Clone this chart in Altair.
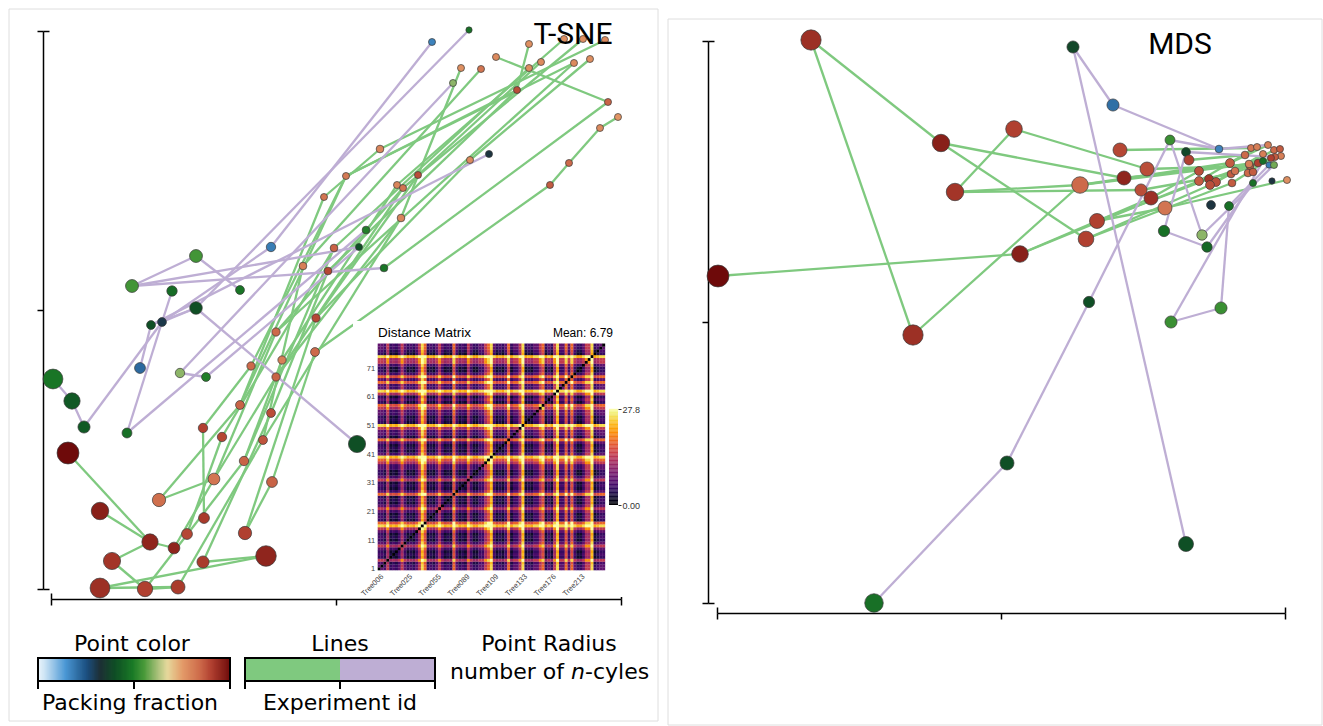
import altair as alt
import numpy as np
import pandas as pd

FONT = "DejaVu Sans"
TITLE_FONT = "Roboto"
SMALL_FONT = "Liberation Sans"

# ---------------- colour / size keys ----------------
PF_STOPS = [0.0, 0.03, 0.14, 0.25, 0.32, 0.40, 0.49, 0.55, 0.62, 0.67, 0.75, 0.84, 0.90, 1.0]
PF_COLORS = ["#e8f3fb", "#cfe5f5", "#4a97d4", "#1b4f80", "#1d2f35", "#0f4f25", "#1a7a26",
             "#4a9a3a", "#a8c07a", "#e6d99c", "#e39a68", "#cd6a4a", "#b04030", "#6e0a0a"]
PF_TICKS = [0, 0.5, 1]
EXPERIMENTS = [1, 2]
LINE_COLORS = ["#7fc97f", "#beaed4"]
NCYC_MAX = 50

# ---------------- T-SNE embedding ----------------
TSNE_X = [38.1, 41.8, 47.8, 51.3, 53.2, 55.4, 44.5, 41.0, 43.0, 47.8,
          49.0, 52.3, 53.9, 40.2, 46.6, 55.7, 56.7, 54.9, 32.9, 43.8,
          41.9, 51.8, 29.5, 36.7, 34.6, 35.2, 49.9, 27.3, 35.0, 31.5,
          30.8, 28.3, 25.2, 27.7, 33.3, 22.0, 14.5, 8.1, 12.1, 18.9,
          14.5, 11.1, 10.0, 26.5, 22.5, 26.4, 23.1, 20.0, 22.5, 8.9,
          12.9, 15.5, 0.2, 2.1, 3.3, 7.6, 18.9, 22.0, 15.2, 17.1,
          21.2, 30.6, 1.7, 19.3, 16.3, 22.1, 10.8, 4.9, 15.3, 13.6,
          19.4, 9.9, 12.3, 6.1, 15.2, 21.5, 4.9, 9.4, 12.7]
TSNE_Y = [54.7, 55.9, 54.5, 55.0, 55.0, 54.9, 53.2, 52.1, 52.0, 52.1,
          52.7, 52.6, 53.0, 50.6, 49.9, 48.7, 47.2, 46.1, 44.0, 43.5,
          42.9, 42.6, 41.3, 41.4, 40.4, 40.1, 40.4, 39.2, 37.1, 35.9,
          34.2, 34.1, 32.3, 31.8, 32.1, 34.2, 33.3, 30.3, 29.8, 29.9,
          28.1, 26.7, 26.4, 27.1, 25.7, 23.7, 22.9, 22.3, 21.2, 22.1,
          21.6, 21.2, 21.0, 18.8, 16.2, 15.6, 18.4, 17.6, 16.1, 15.2,
          14.9, 14.5, 13.6, 12.8, 11.0, 10.7, 8.9, 7.8, 7.1, 5.5,
          5.6, 4.7, 4.1, 2.8, 2.7, 3.3, 0.1, 0.0, 0.2]
TSNE_PF = [0.17, 0.47, 0.77, 0.77, 0.77, 0.78, 0.78, 0.77, 0.82, 0.77,
           0.78, 0.78, 0.77, 0.60, 0.88, 0.85, 0.76, 0.78, 0.79, 0.31,
           0.78, 0.84, 0.81, 0.88, 0.79, 0.82, 0.86, 0.82, 0.79, 0.50,
           0.40, 0.85, 0.80, 0.89, 0.48, 0.18, 0.54, 0.54, 0.46, 0.48,
           0.40, 0.30, 0.40, 0.89, 0.84, 0.84, 0.80, 0.84, 0.85, 0.21,
           0.60, 0.50, 0.48, 0.42, 0.42, 0.47, 0.85, 0.88, 0.90, 0.89,
           0.87, 0.40, 1.00, 0.85, 0.82, 0.85, 0.83, 0.96, 0.91, 0.89,
           0.90, 0.95, 0.95, 0.92, 0.91, 0.95, 0.93, 0.90, 0.91]
TSNE_NCYC = [5, 4, 5, 5, 5, 5, 5, 5, 5, 5,
             5, 5, 5, 5, 5, 5, 5, 5, 6, 5,
             5, 5, 5, 5, 5, 5, 5, 5, 6, 6,
             5, 6, 6, 6, 6, 9, 17, 17, 11, 8,
             16, 8, 8, 7, 7, 8, 7, 7, 7, 12,
             9, 8, 40, 27, 15, 10, 8, 8, 9, 9,
             8, 30, 49, 9, 14, 12, 18, 31, 12, 12,
             18, 27, 14, 30, 15, 43, 40, 24, 20]
TSNE_EDGES_1 = [(63, 72), (68, 72), (72, 74), (74, 78), (78, 79), (77, 79), (77, 76), (75, 76),
                (72, 73), (67, 65), (79, 61), (78, 64), (69, 59), (73, 65), (75, 58), (71, 66),
                (66, 46), (67, 57), (65, 49), (70, 60), (71, 44), (65, 45),
                (64, 47), (59, 48), (60, 32), (61, 33), (57, 28), (58, 34), (49, 29), (48, 23),
                (47, 25), (46, 27), (45, 26), (44, 24),
                (33, 9), (34, 15), (32, 10), (29, 8), (28, 19), (19, 6), (23, 12), (25, 4),
                (26, 5), (24, 11), (21, 13), (27, 22), (22, 18), (18, 17), (35, 16), (16, 7),
                (15, 3), (15, 23),
                (44, 21), (45, 12), (49, 26), (61, 29), (64, 32), (57, 23)]
TSNE_EDGES_2 = [(1, 36), (36, 42), (2, 41), (41, 42), (41, 43), (41, 62), (39, 42), (55, 42),
                (56, 42), (50, 43), (20, 43), (53, 54), (54, 55), (14, 51), (51, 52), (52, 31),
                (56, 30), (38, 37), (37, 40), (38, 31), (38, 35)]

# ---------------- MDS embedding ----------------
MDS_X = [9.4, 35.6, 39.6, 29.7, 22.4, 45.3, 40.3, 46.9, 50.2, 47.2,
         23.8, 36.3, 40.7, 43.0, 42.4, 43.4, 44.8, 38.0, 36.9, 30.3,
         0.1, 19.6, 49.4, 51.2, 44.7, 48.5, 49.0, 37.2, 45.4, 50.4,
         29.0, 46.9, 15.7, 53.4, 54.0, 55.1, 55.7, 56.3, 54.6, 56.4,
         55.8, 55.4, 52.8, 51.3, 53.3, 55.2, 55.7, 54.1, 53.2, 51.4,
         51.8, 53.1, 53.6, 48.2, 49.2, 49.9, 48.2, 49.3, 51.5, 53.6,
         55.5, 57.0, 54.6]
MDS_Y = [56.3, 55.6, 49.8, 47.4, 46.0, 46.3, 45.3, 45.1, 45.4, 44.3,
         41.1, 41.8, 42.5, 43.4, 41.3, 40.5, 39.5, 38.2, 36.4, 34.9,
         32.7, 26.8, 39.8, 39.7, 37.2, 36.8, 35.6, 30.1, 28.1, 29.5,
         14.0, 5.9, 0.0, 45.5, 45.6, 45.8, 45.3, 45.4, 44.9, 44.7,
         44.6, 44.5, 44.8, 44.0, 43.7, 43.8, 43.8, 44.0, 43.9, 42.9,
         43.2, 43.0, 43.1, 43.2, 42.4, 42.1, 42.2, 41.8, 42.0, 42.0,
         42.2, 42.3, 44.2]
MDS_PF = [0.93, 0.38, 0.20, 0.90, 0.96, 0.53, 0.89, 0.38, 0.17, 0.90,
          0.92, 0.84, 0.95, 0.88, 0.88, 0.93, 0.82, 0.90, 0.90, 0.96,
          1.00, 0.93, 0.31, 0.47, 0.47, 0.60, 0.45, 0.40, 0.53, 0.53,
          0.40, 0.40, 0.47, 0.82, 0.80, 0.80, 0.84, 0.86, 0.80, 0.80,
          0.86, 0.90, 0.84, 0.86, 0.86, 0.18, 0.58, 0.90, 0.80, 0.86,
          0.82, 0.84, 0.86, 0.88, 0.92, 0.88, 0.86, 0.88, 0.86, 0.47,
          0.31, 0.77, 0.47]
MDS_NCYC = [42, 15, 15, 28, 31, 10, 20, 8, 6, 10,
            31, 28, 20, 20, 15, 20, 20, 23, 25, 28,
            49, 42, 8, 8, 13, 11, 11, 13, 15, 15,
            20, 23, 35, 5, 5, 5, 5, 5, 5, 5,
            5, 5, 6, 8, 6, 4, 5, 6, 6, 6,
            6, 6, 6, 8, 8, 8, 8, 8, 6, 5,
            4, 5, 5]
MDS_EDGES_1 = [(1, 5), (5, 19), (1, 22), (22, 12), (12, 44), (4, 11), (4, 14), (14, 45), (5, 13),
               (13, 48), (11, 12), (11, 15), (15, 50), (21, 20), (20, 16), (16, 54), (19, 58),
               (18, 55), (17, 62), (7, 34), (12, 49), (20, 57), (19, 59), (10, 43), (44, 36),
               (50, 40), (55, 41), (56, 37), (57, 35), (58, 39), (59, 42), (18, 17)]
MDS_EDGES_2 = [(2, 32), (2, 3), (3, 9), (9, 36), (33, 31), (31, 28), (28, 6), (6, 26), (6, 9),
               (25, 27), (29, 30), (30, 24), (24, 46), (29, 63), (8, 25), (8, 41), (26, 47),
               (27, 60)]

# ---------------- distance-matrix inset ----------------
# per-tree distance level read from the banding of the matrix (79 trees)
HM_LEVEL = [3.8, 3.8, 2.2, 10.5, 1.0, 2.2, 1.0, 3.8, 10.5, 3.8,
            1.0, 2.2, 1.0, 3.8, 10.5, 21.5, 14.5, 1.0, 2.2, 1.0,
            3.8, 10.5, 3.8, 1.0, 2.2, 1.0, 14.5, 3.8, 1.0, 2.2,
            1.0, 10.5, 3.8, 1.0, 1.0, 3.8, 3.8, 10.5, 14.5, 21.5,
            3.8, 1.0, 2.2, 1.0, 3.8, 14.5, 1.0, 3.8, 3.8, 10.5,
            21.5, 1.0, 2.2, 1.0, 3.8, 3.8, 10.5, 14.5, 1.0, 3.8,
            1.0, 10.5, 21.5, 3.8, 3.8, 14.5, 3.8, 14.5, 3.8, 1.0,
            1.0, 3.8, 10.5, 10.5, 21.5, 1.0, 2.2, 3.8, 3.8]
HM_TICKS = [1, 11, 21, 31, 41, 51, 61, 71]
HM_TICK_NAMES = ["Tree006", "Tree025", "Tree055", "Tree089", "Tree109", "Tree133", "Tree176", "Tree213"]
HM_MAX = 27.8
HM_TITLE = "Distance Matrix"
HM_MEAN = "Mean: 6.79"

# ---------------- helpers ----------------
pf_scale = alt.Scale(domain=PF_STOPS, range=PF_COLORS, interpolate="rgb")
exp_scale = alt.Scale(domain=EXPERIMENTS, range=LINE_COLORS)
size_scale = alt.Scale(domain=[0, NCYC_MAX], range=[0, 491])
ONE = pd.DataFrame({"v": [0]})


def points_frame(xs, ys, pf, n):
    return pd.DataFrame({"x": xs, "y": ys, "pf": pf, "n": n})


def edges_frame(xs, ys, e1, e2):
    rows = []
    for exp, edges in zip(EXPERIMENTS, (e1, e2)):
        for a, b in edges:
            rows.append({"x": xs[a - 1], "y": ys[a - 1], "x2": xs[b - 1], "y2": ys[b - 1], "exp": exp})
    return pd.DataFrame(rows)


def main_axis(orient, values, offset, domain=True):
    return alt.Axis(orient=orient, values=values, labels=False, title=None, grid=False, domain=domain,
                    domainColor="black", domainWidth=1.5, tickColor="black", tickWidth=1.5,
                    tickSize=6, offset=offset)


def text_layer(txt, x, y, size, font, align="left", style="normal"):
    return alt.Chart(pd.DataFrame({"t": [txt]})).mark_text(
        align=align, baseline="alphabetic", fontSize=size, font=font, color="black",
        fontStyle=style).encode(text="t:N", x=alt.value(x), y=alt.value(y))


def frame_layer(x1, x2, y1, y2, color="#dedede"):
    return alt.Chart(ONE).mark_rect(fillOpacity=0, stroke=color, strokeWidth=1).encode(
        x=alt.value(x1), x2=alt.value(x2), y=alt.value(y1), y2=alt.value(y2))


def scatter_layers(xs, ys, pf, n, e1, e2, xdom, ydom, xoff, yoff, yrange):
    xsc = alt.Scale(domain=xdom, nice=False, zero=False)
    ysc = alt.Scale(domain=ydom, range=yrange, nice=False, zero=False)
    edges = alt.Chart(edges_frame(xs, ys, e1, e2)).mark_rule(strokeWidth=2.3).encode(
        x=alt.X("x:Q", scale=xsc, axis=main_axis("bottom", [xdom[0], (xdom[0] + xdom[1]) / 2, xdom[1]], xoff)),
        y=alt.Y("y:Q", scale=ysc, axis=main_axis("left", [ydom[0], (ydom[0] + ydom[1]) / 2, ydom[1]], yoff)),
        x2="x2:Q", y2="y2:Q",
        color=alt.Color("exp:N", scale=exp_scale, legend=None))
    # inner half of the end caps of both axes
    caps = alt.Chart(pd.DataFrame({"x": [xdom[0]], "y": [ydom[0]]})).mark_point(opacity=0).encode(
        x=alt.X("x:Q", scale=xsc, axis=main_axis("bottom", list(xdom), xoff - 6, domain=False)),
        y=alt.Y("y:Q", scale=ysc, axis=main_axis("left", list(ydom), yoff - 6, domain=False)))
    pts = alt.Chart(points_frame(xs, ys, pf, n)).mark_circle(
        opacity=1, stroke="#3a3a3a", strokeWidth=0.7).encode(
        x=alt.X("x:Q", scale=xsc, axis=None),
        y=alt.Y("y:Q", scale=ysc, axis=None),
        color=alt.Color("pf:Q", scale=pf_scale, legend=None),
        size=alt.Size("n:Q", scale=size_scale, legend=None))
    return edges, caps, pts


# ---------------- T-SNE panel ----------------
W_T, H_T = 570, 558
tsne_edges, tsne_caps, tsne_pts = scatter_layers(TSNE_X, TSNE_Y, TSNE_PF, TSNE_NCYC, TSNE_EDGES_1,
                                                 TSNE_EDGES_2, [0, 57], [0, 55.8], 10, 8, [H_T, 0])

# heatmap inset
lev = np.array(HM_LEVEL)
nt = len(lev)
mat = np.minimum(lev[:, None] + lev[None, :], HM_MAX)
np.fill_diagonal(mat, 0.0)
ii, jj = np.meshgrid(np.arange(1, nt + 1), np.arange(1, nt + 1), indexing="ij")
hm_df = pd.DataFrame({"c0": jj.ravel() - 0.5, "c1": jj.ravel() + 0.56,
                      "r0": ii.ravel() - 0.5, "r1": ii.ravel() + 0.56, "d": mat.ravel()})
hm_x0, hm_x1, hm_y0, hm_y1 = 326.7, 554.0, 539.3, 312.7
label_arr = "[" + ",".join("'%s'" % s for s in HM_TICK_NAMES) + "]"
hm_x_axis = alt.Axis(orient="bottom", values=HM_TICKS, offset=-(H_T - hm_y0), domain=False, ticks=False,
                     labelExpr=label_arr + "[round((datum.value-1)/10)]", labelAngle=-45,
                     labelFontSize=7.5, labelFont=SMALL_FONT, labelColor="#444", labelPadding=2,
                     labelFlush=False, labelOverlap=False, labelBound=False, title=None, grid=False, zindex=2)
hm_y_axis = alt.Axis(orient="left", values=HM_TICKS, offset=-hm_x0, domain=False, ticks=False,
                     labelFontSize=7.5, labelFont=SMALL_FONT, labelColor="#444", labelPadding=3,
                     labelFlush=False, labelOverlap=False, title=None, grid=False, zindex=2)
hm_color = alt.Scale(scheme="inferno", domain=[0, HM_MAX])
heat = alt.Chart(hm_df).mark_rect(strokeWidth=0).encode(
    x=alt.X("c0:Q", scale=alt.Scale(domain=[0.5, nt + 0.5], range=[hm_x0, hm_x1], nice=False, zero=False),
            axis=hm_x_axis),
    x2="c1:Q",
    y=alt.Y("r0:Q", scale=alt.Scale(domain=[0.5, nt + 0.5], range=[hm_y0, hm_y1], nice=False, zero=False),
            axis=hm_y_axis),
    y2="r1:Q",
    color=alt.Color("d:Q", scale=hm_color, legend=None))

cb_v = np.linspace(0, HM_MAX, 121)
cb_df = pd.DataFrame({"v": cb_v[:-1], "v2": cb_v[1:] + 0.05})
cbar = alt.Chart(cb_df).mark_rect(strokeWidth=0).encode(
    x=alt.value(558), x2=alt.value(567),
    y=alt.Y("v:Q", scale=alt.Scale(domain=[0, HM_MAX], range=[474, 378], nice=False, zero=False),
            axis=alt.Axis(orient="right", values=[0, HM_MAX], offset=-3, domain=False, tickSize=3,
                          tickColor="#333", labelFontSize=9, labelFont=SMALL_FONT, labelColor="#333",
                          labelPadding=1, labelFlush=False, title=None, grid=False, zindex=2,
                          labelExpr="datum.value < 1 ? format(datum.value, '.2f') : format(datum.value, '.1f')")),
    y2="v2:Q",
    color=alt.Color("v:Q", scale=hm_color, legend=None))

inset_box = alt.Chart(ONE).mark_rect(color="white").encode(
    x=alt.value(302), x2=alt.value(576), y=alt.value(290), y2=alt.value(566))

# ---------------- legend (drawn below the T-SNE plot) ----------------
LEG_SIZE = 22
BAR_TOP, BAR_BOT, TICK_BOT = 627, 650, 658

grad = np.linspace(0, 1, 161)
grad_df = pd.DataFrame({"pf": grad[:-1], "pf2": np.minimum(grad[1:] + 0.004, 1.0)})
gsc = alt.Scale(domain=[0, 1], range=[-13, 179], nice=False, zero=False)
pf_key = alt.layer(
    alt.Chart(grad_df).mark_rect(strokeWidth=0).encode(
        x=alt.X("pf:Q", scale=gsc, axis=None), x2="pf2:Q",
        y=alt.value(BAR_TOP), y2=alt.value(BAR_BOT),
        color=alt.Color("pf:Q", scale=pf_scale, legend=None)),
    alt.Chart(pd.DataFrame({"t": PF_TICKS})).mark_rule(color="black", strokeWidth=2).encode(
        x=alt.X("t:Q", scale=gsc, axis=None), y=alt.value(BAR_BOT), y2=alt.value(TICK_BOT)),
    alt.Chart(pd.DataFrame({"a": [PF_TICKS[0]], "b": [PF_TICKS[-1]]})).mark_rect(
        fillOpacity=0, stroke="black", strokeWidth=2).encode(
        x=alt.X("a:Q", scale=gsc, axis=None), x2="b:Q", y=alt.value(BAR_TOP), y2=alt.value(BAR_BOT)),
)

lsc = alt.Scale(domain=[0, 2], range=[194, 384], nice=False, zero=False)
lines_df = pd.DataFrame({"exp": EXPERIMENTS, "a": [0, 1], "b": [1, 2]})
line_key = alt.layer(
    alt.Chart(lines_df).mark_rect(strokeWidth=0).encode(
        x=alt.X("a:Q", scale=lsc, axis=None), x2="b:Q",
        y=alt.value(BAR_TOP), y2=alt.value(BAR_BOT),
        color=alt.Color("exp:N", scale=exp_scale, legend=None)),
    alt.Chart(pd.DataFrame({"t": [0, 1, 2]})).mark_rule(color="black", strokeWidth=2).encode(
        x=alt.X("t:Q", scale=lsc, axis=None), y=alt.value(BAR_BOT), y2=alt.value(TICK_BOT)),
    alt.Chart(pd.DataFrame({"a": [0], "b": [2]})).mark_rect(
        fillOpacity=0, stroke="black", strokeWidth=2).encode(
        x=alt.X("a:Q", scale=lsc, axis=None), x2="b:Q", y=alt.value(BAR_TOP), y2=alt.value(BAR_BOT)),
)

tsne = alt.layer(
    frame_layer(-42, 607, -22, 690),
    tsne_edges,
    tsne_caps,
    inset_box,
    heat,
    cbar,
    text_layer(HM_TITLE, 327, 306, 13.5, SMALL_FONT),
    text_layer(HM_MEAN, 562, 306, 12, SMALL_FONT, align="right"),
    tsne_pts,
    text_layer("T-SNE", 522, 13, 30, TITLE_FONT, align="center"),
    pf_key,
    line_key,
    text_layer("Point color", 81, 620, LEG_SIZE, FONT, align="center"),
    text_layer("Packing fraction", 79, 679, LEG_SIZE, FONT, align="center"),
    text_layer("Lines", 289, 620, LEG_SIZE, FONT, align="center"),
    text_layer("Experiment id", 289, 679, LEG_SIZE, FONT, align="center"),
    text_layer("Point Radius", 498, 620, LEG_SIZE, FONT, align="center"),
    text_layer("number of", 399, 648, LEG_SIZE, FONT),
    text_layer("n", 520, 648, LEG_SIZE, FONT, style="italic"),
    text_layer("-cyles", 534, 648, LEG_SIZE, FONT),
).resolve_scale(x="independent", y="independent", color="independent", size="independent"
).properties(width=W_T, height=H_T)

# ---------------- MDS panel ----------------
W_M, H_M, TOP_M = 568, 562, 10
mds_edges, mds_caps, mds_pts = scatter_layers(MDS_X, MDS_Y, MDS_PF, MDS_NCYC, MDS_EDGES_1, MDS_EDGES_2,
                                              [0, 56.8], [0, 56.2], 10, 9, [H_M + TOP_M, TOP_M])
mds = alt.layer(
    frame_layer(-49, 605, -12, 694),
    mds_edges,
    mds_caps,
    mds_pts,
    text_layer("MDS", 463, 23, 30, TITLE_FONT, align="center"),
).resolve_scale(x="independent", y="independent", color="independent", size="independent"
).properties(width=W_M, height=H_M + TOP_M)

chart = alt.hconcat(tsne, mds, spacing=8).resolve_scale(
    color="independent", size="independent"
).properties(
    padding={"left": 8, "top": 8, "right": 0, "bottom": 0}, background="white"
).configure_view(stroke="transparent")

chart.save("out.html", embed_options={"renderer": "svg", "actions": False})
